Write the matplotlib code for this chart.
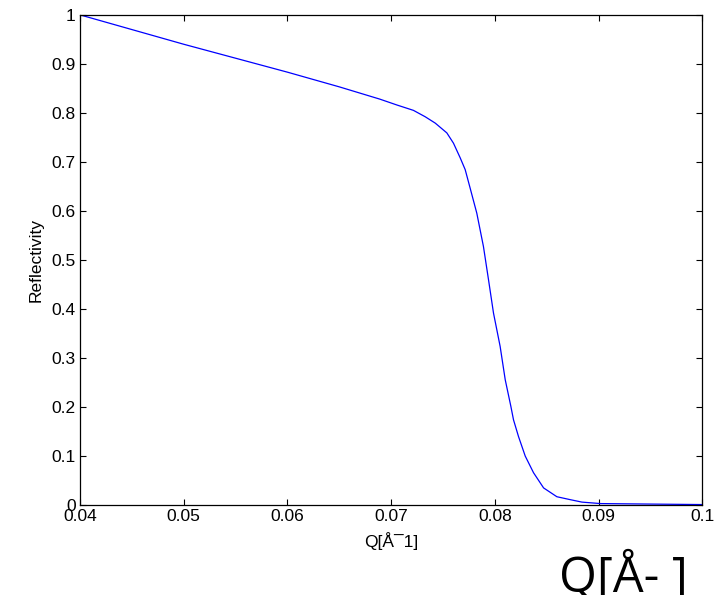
import matplotlib.pyplot as plt

# reflectivity curve
q = [0.040, 0.050, 0.060, 0.065, 0.0689, 0.07055, 0.07215, 0.07328, 0.07425,
     0.07537, 0.07601, 0.07666, 0.07714, 0.07762, 0.07826, 0.0789, 0.07939,
     0.07987, 0.08051, 0.0810, 0.08154, 0.0818, 0.08228, 0.08293, 0.08373,
     0.0847, 0.08598, 0.08727, 0.0884, 0.0902, 0.095, 0.100]
refl = [1.0, 0.94, 0.883, 0.853, 0.828, 0.816, 0.805, 0.792, 0.779,
        0.759, 0.738, 0.708, 0.684, 0.646, 0.595, 0.527, 0.459,
        0.391, 0.323, 0.255, 0.201, 0.173, 0.139, 0.099, 0.065,
        0.034, 0.016, 0.010, 0.005, 0.002, 0.001, 0.0]

xticks = [0.04, 0.05, 0.06, 0.07, 0.08, 0.09, 0.1]
xticklabels = ['0.04', '0.05', '0.06', '0.07', '0.08', '0.09', '0.1']
yticks = [0, 0.1, 0.2, 0.3, 0.4, 0.5, 0.6, 0.7, 0.8, 0.9, 1]
yticklabels = ['0', '0.1', '0.2', '0.3', '0.4', '0.5', '0.6', '0.7', '0.8', '0.9', '1']

plt.rcParams['font.family'] = ['Liberation Sans', 'DejaVu Sans']

fig = plt.figure(figsize=(7.21, 5.95), dpi=100)
ax = fig.add_axes([0.111, 0.152, 0.863, 0.823])

ax.plot(q, refl, color='#0000ff', linewidth=0.9)

ax.set_xlim(0.04, 0.1)
ax.set_ylim(0, 1)
ax.set_xticks(xticks)
ax.set_xticklabels(xticklabels)
ax.set_yticks(yticks)
ax.set_yticklabels(yticklabels)
ax.tick_params(direction='in', top=True, right=True, length=4, width=0.8,
               labelsize=12.5, pad=3)
for s in ax.spines.values():
    s.set_linewidth(0.9)

ax.set_xlabel('Q[Å¯1]', fontsize=12.5, labelpad=6)
ax.set_ylabel('Reflectivity', fontsize=12.5, labelpad=6)

# stray oversized label in the lower right corner
fig.text(0.776, 0.006, 'Q[Å- ]', fontsize=35, family='Open Sans',
         ha='left', va='baseline')

fig.savefig('out.png', dpi=100)
